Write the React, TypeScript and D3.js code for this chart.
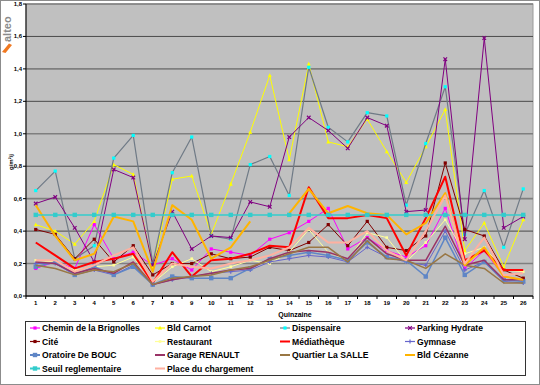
import React from "react";
import * as d3 from "d3";

// quinzaines (x categories)
const quinzaines = ["1", "2", "3", "4", "5", "6", "7", "8", "9", "10", "11", "12", "13", "14", "15", "16", "17", "18", "19", "20", "21", "22", "23", "24", "25", "26"];
const yTicks = [0, 0.2, 0.4, 0.6, 0.8, 1.0, 1.2, 1.4, 1.6, 1.8];

// series values (g/m²/j)
const chemin = [0.17, 0.21, 0.17, 0.44, 0.23, 0.27, 0.19, 0.23, 0.16, 0.29, 0.27, 0.25, 0.35, 0.39, 0.46, 0.54, 0.29, 0.36, 0.28, 0.24, 0.31, 0.54, 0.17, 0.28, 0.12, 0.1];
const carnot = [0.44, 0.4, 0.32, 0.46, 0.81, 0.75, 0.18, 0.72, 0.74, 0.38, 0.69, 1.01, 1.36, 0.84, 1.43, 0.95, 0.92, 1.09, 0.89, 0.7, 0.92, 1.15, 0.28, 0.45, 0.18, 0.47];
const dispensaire = [0.65, 0.77, 0.23, 0.31, 0.85, 0.99, 0.2, 0.76, 0.98, 0.37, 0.35, 0.81, 0.86, 0.62, 1.41, 1.04, 0.95, 1.13, 1.11, 0.56, 0.94, 1.29, 0.38, 0.65, 0.3, 0.66];
const parking = [0.57, 0.61, 0.42, 0.21, 0.78, 0.73, 0.19, 0.52, 0.29, 0.37, 0.36, 0.58, 0.55, 0.98, 1.1, 1.02, 0.91, 1.1, 1.05, 0.52, 0.53, 1.46, 0.35, 1.59, 0.42, 0.49];
const cite = [0.41, 0.38, 0.23, 0.35, 0.21, 0.31, 0.13, 0.2, 0.2, 0.26, 0.23, 0.24, 0.3, 0.28, 0.33, 0.44, 0.31, 0.46, 0.3, 0.28, 0.37, 0.82, 0.41, 0.37, 0.16, 0.11];
const restaurant = [0.22, 0.21, 0.16, 0.18, 0.19, 0.24, 0.08, 0.18, 0.23, 0.15, 0.18, 0.22, 0.2, 0.27, 0.41, 0.27, 0.22, 0.39, 0.36, 0.21, 0.33, 0.47, 0.26, 0.3, 0.16, 0.15];
const mediatheque = [0.33, 0.25, 0.17, 0.21, 0.23, 0.26, 0.08, 0.27, 0.12, 0.22, 0.23, 0.26, 0.31, 0.3, 0.67, 0.48, 0.48, 0.5, 0.48, 0.25, 0.48, 0.735, 0.22, 0.28, 0.16, 0.16];
const gymnase = [0.2, 0.2, 0.13, 0.16, 0.13, 0.19, 0.07, 0.1, 0.12, 0.14, 0.15, 0.16, 0.21, 0.23, 0.25, 0.24, 0.21, 0.3, 0.24, 0.21, 0.19, 0.4, 0.16, 0.21, 0.09, 0.08];
const oratoire = [0.18, 0.21, 0.13, 0.18, 0.13, 0.18, 0.07, 0.12, 0.11, 0.11, 0.11, 0.17, 0.23, 0.25, 0.27, 0.25, 0.22, 0.33, 0.24, 0.22, 0.12, 0.36, 0.13, 0.21, 0.1, 0.09];
const garage = [0.21, 0.2, 0.14, 0.17, 0.14, 0.21, 0.07, 0.1, 0.12, 0.14, 0.16, 0.17, 0.23, 0.27, 0.28, 0.27, 0.23, 0.36, 0.26, 0.22, 0.22, 0.43, 0.19, 0.22, 0.1, 0.1];
const salle = [0.19, 0.17, 0.13, 0.16, 0.15, 0.2, 0.07, 0.11, 0.12, 0.13, 0.16, 0.18, 0.22, 0.26, 0.3, 0.3, 0.21, 0.34, 0.23, 0.22, 0.17, 0.26, 0.19, 0.17, 0.08, 0.08];
const cezanne = [0.56, 0.37, 0.22, 0.26, 0.49, 0.46, 0.15, 0.56, 0.47, 0.23, 0.3, 0.46, null, 0.51, 0.66, 0.51, 0.555, 0.51, 0.5, 0.38, 0.45, 0.635, 0.19, 0.3, 0.12, 0.1];
const seuil = [0.5, 0.5, 0.5, 0.5, 0.5, 0.5, 0.5, 0.5, 0.5, 0.5, 0.5, 0.5, 0.5, 0.5, 0.5, 0.5, 0.5, 0.5, 0.5, 0.5, 0.5, 0.5, 0.5, 0.5, 0.5, 0.5];
const place = [0.22, 0.22, 0.15, 0.19, 0.25, 0.3, 0.09, 0.2, 0.18, 0.17, 0.2, 0.22, 0.25, 0.3, 0.42, 0.33, 0.33, 0.4, 0.28, 0.22, 0.4, 0.62, 0.2, 0.36, 0.13, 0.14];

type Serie = { name: string; values: (number | null)[]; color: string; width: number; marker: string | null; markerColor?: string };

const series: Serie[] = [
  { name: "Chemin de la Brignolles", values: chemin, color: "#FF00FF", width: 1, marker: "square" },
  { name: "Bld Carnot", values: carnot, color: "#FFFF00", width: 1, marker: "triangle" },
  { name: "Dispensaire", values: dispensaire, color: "#6F7A86", width: 1.2, marker: "square", markerColor: "#00FFFF" },
  { name: "Parking Hydrate", values: parking, color: "#800080", width: 1, marker: "x" },
  { name: "Cité", values: cite, color: "#800000", width: 1, marker: "star" },
  { name: "Restaurant", values: restaurant, color: "#FFFF99", width: 1, marker: "small" },
  { name: "Médiathèque", values: mediatheque, color: "#FF0000", width: 2, marker: null },
  { name: "Gymnase", values: gymnase, color: "#6666CC", width: 1, marker: "plus" },
  { name: "Oratoire De BOUC", values: oratoire, color: "#5F86C6", width: 1.5, marker: "bigsquare" },
  { name: "Garage RENAULT", values: garage, color: "#993366", width: 1.5, marker: null },
  { name: "Quartier La SALLE", values: salle, color: "#997744", width: 1.5, marker: null },
  { name: "Bld Cézanne", values: cezanne, color: "#FFB400", width: 2, marker: null },
  { name: "Seuil reglementaire", values: seuil, color: "#33CCCC", width: 1.5, marker: "bigsquare" },
  { name: "Place du chargement", values: place, color: "#FFB0A0", width: 2, marker: null },
];

const font = "Arial, 'Liberation Sans', sans-serif";

const Marker = ({ kind, x, y, color }: { kind: string; x: number; y: number; color: string }) => {
  switch (kind) {
    case "square":
      return <rect x={x - 1.6} y={y - 1.6} width={3.2} height={3.2} fill={color} />;
    case "bigsquare":
      return <rect x={x - 2.2} y={y - 2.2} width={4.4} height={4.4} fill={color} />;
    case "triangle":
      return <path d={`M${x},${y - 2.2}L${x + 2},${y + 1.6}L${x - 2},${y + 1.6}Z`} fill={color} />;
    case "x":
      return <path d={`M${x - 1.8},${y - 1.8}L${x + 1.8},${y + 1.8}M${x + 1.8},${y - 1.8}L${x - 1.8},${y + 1.8}`} stroke={color} strokeWidth={1.2} />;
    case "star":
      return <rect x={x - 1.6} y={y - 1.6} width={3.2} height={3.2} fill={color} />;
    case "small":
      return <rect x={x - 1.3} y={y - 1.3} width={2.6} height={2.6} fill={color} />;
    case "plus":
      return <path d={`M${x - 2},${y}L${x + 2},${y}M${x},${y - 2}L${x},${y + 2}`} stroke={color} strokeWidth={1.2} />;
    default:
      return null;
  }
};

const App = () => {
  const W = 540, H = 385;
  const left = 26, right = 533, top = 4, bottom = 296;

  const x = d3.scaleBand().domain(quinzaines).range([left, right]);
  const y = d3.scaleLinear().domain([0, 1.8]).range([bottom, top]);
  const cx = (q: string) => (x(q) as number) + x.bandwidth() / 2;

  const line = d3
    .line<number | null>()
    .defined((d) => d !== null)
    .x((_, i) => cx(quinzaines[i]))
    .y((d) => y(d as number));

  const fmt = (v: number) => v.toFixed(1).replace(".", ",");

  const legendCols = [30, 155, 280, 405];
  const legendRows = [328, 341.5, 355, 368.5];

  return (
    <svg width={W} height={H} style={{ position: "absolute", left: 0, top: 0 }} fontFamily={font}>
      <rect x={0} y={0} width={W} height={H} fill="#fff" />
      <rect x={0.5} y={0.5} width={W - 1} height={H - 1} fill="none" stroke="#8c8c8c" />

      {/* logo */}
      <g>
        <text transform="translate(10.5,42) rotate(-90)" fontSize={11} fill="#8a8a8a" fontWeight="bold" fontFamily={font}>
          alteo
        </text>
        <path d="M2,52 L9,43.5 L12,45 L5.5,53 Z" fill="#F07820" />
      </g>

      {/* plot area */}
      <rect x={left} y={top} width={right - left} height={bottom - top} fill="#C0C0C0" stroke="#9a9a9a" />
      {yTicks.map((t, i) => (
        <line
          key={t}
          x1={left}
          x2={right}
          y1={y(t)}
          y2={y(t)}
          stroke={i % 2 === 0 ? "#4a4a4a" : "#7f7f7f"}
          strokeWidth={i % 2 === 0 ? 1 : 1.6}
        />
      ))}

      {/* axes */}
      <line x1={left} x2={left} y1={top} y2={bottom} stroke="#000" />
      <line x1={left} x2={right} y1={bottom} y2={bottom} stroke="#000" />
      {yTicks.map((t) => (
        <g key={t}>
          <line x1={left - 3} x2={left} y1={y(t)} y2={y(t)} stroke="#000" />
          <text x={left - 4} y={y(t) + 2} textAnchor="end" fontSize={6} fontWeight="bold">
            {fmt(t)}
          </text>
        </g>
      ))}
      {quinzaines.map((q) => (
        <g key={q}>
          <line x1={x(q) as number} x2={x(q) as number} y1={bottom} y2={bottom + 3} stroke="#000" />
          <text x={cx(q)} y={bottom + 8.5} textAnchor="middle" fontSize={6} fontWeight="bold">
            {q}
          </text>
        </g>
      ))}
      <line x1={right} x2={right} y1={bottom} y2={bottom + 3} stroke="#000" />
      <text x={295} y={317} textAnchor="middle" fontSize={7} fontWeight="bold">
        Quinzaine
      </text>
      <text transform="translate(13,162) rotate(-90)" textAnchor="middle" fontSize={6} fontWeight="bold">
        g/m²/j
      </text>

      {/* series */}
      {series.map((s) => (
        <g key={s.name}>
          <path d={line(s.values) || ""} fill="none" stroke={s.color} strokeWidth={s.width} strokeLinejoin="round" />
          {s.marker &&
            s.values.map((v, i) =>
              v === null ? null : (
                <Marker key={i} kind={s.marker as string} x={cx(quinzaines[i])} y={y(v)} color={s.markerColor || s.color} />
              )
            )}
        </g>
      ))}

      {/* legend */}
      <rect x={25.5} y={321.5} width={500} height={54} fill="#fff" stroke="#333" />
      {series.map((s, i) => {
        const lx = legendCols[i % 4];
        const ly = legendRows[Math.floor(i / 4)];
        return (
          <g key={s.name}>
            <line x1={lx} x2={lx + 10} y1={ly} y2={ly} stroke={s.color} strokeWidth={s.width > 1.2 ? 2 : 1.2} />
            {s.marker && <Marker kind={s.marker} x={lx + 5} y={ly} color={s.markerColor || s.color} />}
            <text x={lx + 12} y={ly + 3} fontSize={8.6} fontWeight="bold">
              {s.name}
            </text>
          </g>
        );
      })}
    </svg>
  );
};

export default App;
